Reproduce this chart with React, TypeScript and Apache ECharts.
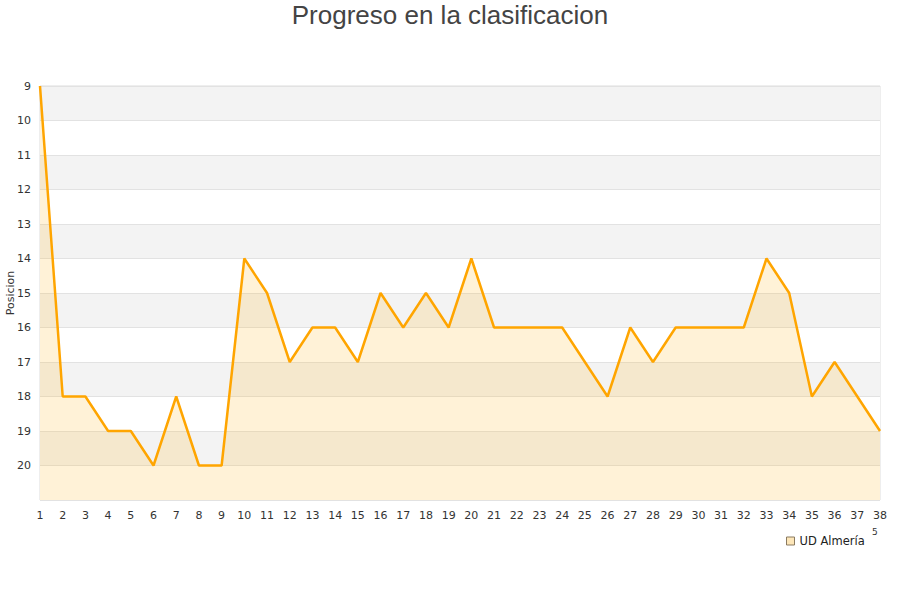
import React, { useEffect, useRef } from "react";
import * as echarts from "echarts";

const jornadas = [
  "1","2","3","4","5","6","7","8","9","10","11","12","13","14","15","16","17","18","19",
  "20","21","22","23","24","25","26","27","28","29","30","31","32","33","34","35","36","37","38",
];
const posiciones = [
  9, 18, 18, 19, 19, 20, 18, 20, 20, 14, 15, 17, 16, 16, 17, 15, 16, 15, 16,
  14, 16, 16, 16, 16, 17, 18, 16, 17, 16, 16, 16, 16, 14, 15, 18, 17, 18, 19,
];
const seriesName = "UD Almería";
const titleText = "Progreso en la clasificacion";
const yAxisName = "Posicion";

export default function App() {
  const ref = useRef<HTMLDivElement>(null);
  useEffect(() => {
    document.body.style.margin = "0";
    const chart = echarts.init(ref.current!, null, { renderer: "svg" });
    chart.setOption({
      animation: false,
      backgroundColor: "#ffffff",
      title: {
        text: titleText,
        left: "center",
        top: -3,
        textStyle: {
          fontFamily: "Liberation Sans",
          fontSize: 26,
          fontWeight: "normal",
          color: "#444444",
        },
      },
      legend: {
        data: [seriesName],
        left: 781,
        top: 530,
        icon: "rect",
        itemWidth: 8,
        itemHeight: 8,
        itemGap: 6,
        textStyle: { fontFamily: "DejaVu Sans", fontSize: 11.5, color: "#222" },
        itemStyle: { color: "#fde6b8", borderColor: "#8a7a60", borderWidth: 1 },
      },
      grid: {
        left: 40,
        right: 20,
        top: 86,
        bottom: 100,
        containLabel: false,
        outerBoundsMode: "none",
        show: true,
        borderColor: "#dddddd",
        borderWidth: 1,
        backgroundColor: "transparent",
      },
      xAxis: {
        type: "category",
        data: jornadas,
        boundaryGap: false,
        axisLine: { show: false },
        axisTick: { show: false },
        axisLabel: {
          fontFamily: "DejaVu Sans",
          fontSize: 11,
          color: "#333",
          margin: 10,
          interval: 0,
        },
        splitLine: { show: false },
      },
      yAxis: {
        type: "value",
        inverse: true,
        min: 9,
        max: 21,
        interval: 1,
        name: yAxisName,
        nameLocation: "middle",
        nameGap: 24,
        nameMoveOverlap: false,
        nameTextStyle: { fontFamily: "DejaVu Sans", fontSize: 11, color: "#333" },
        axisLine: { show: false },
        axisTick: { show: false },
        axisLabel: {
          fontFamily: "DejaVu Sans",
          fontSize: 11,
          color: "#333",
          margin: 9,
          formatter: (v: number) => (v === 21 ? "" : String(v)),
        },
        splitLine: { show: true, lineStyle: { color: "#e2e2e2", width: 1 } },
        splitArea: { show: true, areaStyle: { color: ["#f3f3f3", "#ffffff"] } },
      },
      graphic: [
        {
          type: "text",
          left: 872,
          top: 527,
          style: { text: "5", fontFamily: "DejaVu Sans", fontSize: 9, fill: "#333" },
        },
      ],
      series: [
        {
          name: seriesName,
          type: "line",
          data: posiciones,
          symbol: "none",
          lineStyle: { color: "#ffa500", width: 2.5 },
          itemStyle: { color: "#fde6b8" },
          areaStyle: { origin: "end", color: "rgba(255,190,50,0.28)" },
        },
      ],
    });
    return () => chart.dispose();
  }, []);
  return <div ref={ref} style={{ width: 900, height: 600 }} />;
}
